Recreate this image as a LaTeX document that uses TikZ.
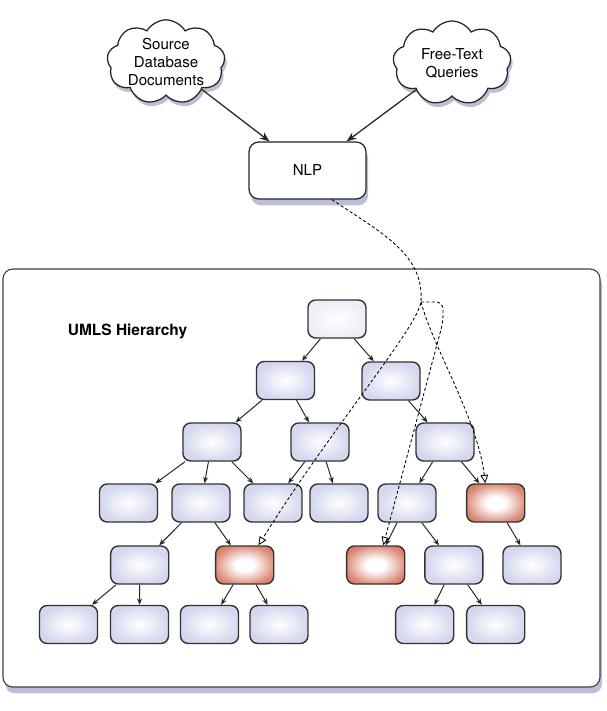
\documentclass[tikz,border=0pt]{standalone}
\usepackage{fontspec}
\setmainfont{TeX Gyre Heros}
\usetikzlibrary{arrows.meta,shapes.symbols,shadows}

\definecolor{conceptedge}{RGB}{212,216,238}
\definecolor{hitred}{RGB}{204,90,64}
\definecolor{shadowblue}{RGB}{120,128,172}

\pgfdeclareradialshading{hitglow}{\pgfpoint{0bp}{0bp}}{%
  color(0bp)=(white); color(8bp)=(white); color(26bp)=(hitred!70);
  color(42bp)=(hitred); color(50bp)=(hitred!92!black)}

\begin{document}
\begin{tikzpicture}[x=0.025cm,y=-0.025cm,
    font=\fontsize{10.7pt}{12.8pt}\selectfont,
    concept/.style={draw=black!80, line width=1pt, rounded corners=5.5pt,
      minimum width=1.45cm, minimum height=0.95cm, inner sep=0pt,
      inner color=white, outer color=conceptedge},
    hit/.style={concept, shading=hitglow},
    isa/.style={line width=0.7pt, black!85, -{Stealth[length=4.5pt,width=3.6pt]}},
    feed/.style={line width=0.9pt, black!85, -{Stealth[length=7pt,width=5.5pt]}},
    lookup/.style={line width=0.6pt, dash pattern=on 2.2pt off 1.6pt,
      -{Triangle[open,length=6pt,width=5.5pt]}},
    docs/.style={cloud, cloud puffs=9, cloud puff arc=120, cloud ignores aspect,
      draw=black!85, line width=0.9pt, fill=white, minimum width=2.95cm,
      minimum height=2.1cm, inner sep=0pt, align=center,
      drop shadow={shadow xshift=1.5pt, shadow yshift=-3pt, fill=shadowblue, opacity=0.5}},
    shadowed/.style={drop shadow={shadow xshift=1.5pt, shadow yshift=-4.5pt,
      fill=shadowblue, opacity=0.5}}]
  \useasboundingbox (0,0) rectangle (606,711);

  % hierarchy frame
  \draw[shadowed, draw=black!75, line width=0.8pt, fill=white, rounded corners=7pt]
    (3,269) rectangle (600,687);
  \node[font=\fontsize{11pt}{13pt}\selectfont\bfseries] (title) at (127.5,331) {UMLS Hierarchy};

  % inputs
  \node[docs] (src) at (166,62) {Source\\Database\\Documents};
  \node[docs] (qry) at (452,63) {Free-Text\\Queries};
  \node[shadowed, draw=black!85, line width=0.9pt, fill=white, rounded corners=7pt,
    minimum width=2.925cm, minimum height=1.425cm] (nlp) at (307.5,170.5) {NLP};
  \draw[feed] (src) -- (nlp);
  \draw[feed] (qry) -- (nlp);

  % concept tree
  \node[concept, outer color=conceptedge!45] (t1) at (337,319) {};
  \node[concept] (t2a) at (285.5,380.5) {};
  \node[concept] (t2b) at (391,381) {};
  \node[concept] (t3a) at (212,442) {};
  \node[concept] (t3b) at (320,442) {};
  \node[concept] (t3c) at (445,442) {};
  \node[concept] (t4a) at (128.5,503) {};
  \node[concept] (t4b) at (201,503) {};
  \node[concept] (t4c) at (273,503) {};
  \node[concept] (t4d) at (339,503) {};
  \node[concept] (t4e) at (407,503) {};
  \node[hit] (t4f) at (495.7,503) {};
  \node[concept] (t5a) at (139.7,565) {};
  \node[hit] (t5b) at (244.7,565) {};
  \node[hit] (t5c) at (375.7,565) {};
  \node[concept] (t5d) at (453.8,565) {};
  \node[concept] (t5e) at (532,565) {};
  \node[concept] (t6a) at (68.5,624.5) {};
  \node[concept] (t6b) at (139.5,624.5) {};
  \node[concept] (t6c) at (209.5,624.5) {};
  \node[concept] (t6d) at (279,624.5) {};
  \node[concept] (t6e) at (424.7,624.5) {};
  \node[concept] (t6f) at (495.7,624.5) {};

  \foreach \p/\c in {t1/t2a, t1/t2b, t2a/t3a, t2a/t3b, t2b/t3c,
      t3a/t4a, t3a/t4b, t3a/t4c, t3b/t4c, t3b/t4d, t3c/t4e, t3c/t4f,
      t4b/t5a, t4b/t5b, t4e/t5c, t4e/t5d, t4f/t5e,
      t5a/t6a, t5a/t6b, t5b/t6c, t5b/t6d, t5d/t6e, t5d/t6f}
    \draw[isa] (\p) -- (\c);

  % NLP matches
  \coordinate (fork) at (421,302);
  \draw[lookup] (nlp.-50) .. controls (385,235) and (424,255) .. (fork)
    .. controls (416,330) and (330,430) .. (t5b.55);
  \draw[lookup, rounded corners=5pt] (fork) -- (443,302) -- (443,322) -- (t5c.69);
  \draw[lookup] (fork) .. controls (432,345) and (478,420) .. (t4f.118);
\end{tikzpicture}
\end{document}
